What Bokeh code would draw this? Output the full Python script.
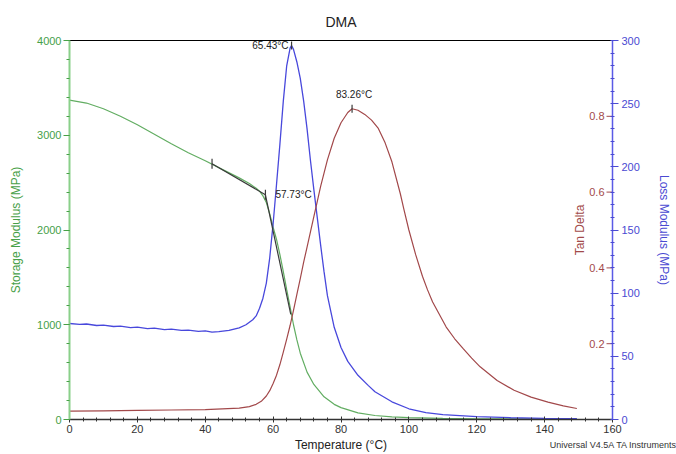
import math
from bokeh.plotting import figure
from bokeh.models import Range1d, LinearAxis, SingleIntervalTicker, Label, Div
from bokeh.layouts import column
from bokeh.core.properties import value
from bokeh.embed import file_html
from bokeh.resources import INLINE

FONT = "Liberation Sans"
GREEN_LINE = "#62ad62"
GREEN_TXT = "#47a047"
BLUE_LINE = "#4848dc"
BLUE_TXT = "#4a4ad2"
RED_LINE = "#a2484a"
RED_TXT = "#a24a4a"

# Storage modulus (MPa)
temp_storage = [0, 5, 10, 15, 20, 25, 30, 35, 40, 45, 50, 53, 55, 56, 57, 58, 59, 60,
                61, 62, 63, 64, 65, 66, 67, 68, 70, 72, 75, 78, 80, 85, 90, 95, 100,
                110, 120, 130, 140, 149.5]
storage = [3370, 3340, 3280, 3200, 3110, 3010, 2910, 2815, 2730, 2640, 2550, 2490, 2440,
           2410, 2360, 2290, 2170, 2030, 1900, 1740, 1560, 1370, 1190, 1000, 840, 700,
           500, 370, 240, 160, 125, 70, 42, 28, 20, 12, 8, 6, 5, 4]

# Loss modulus (MPa)
temp_loss = [0, 3, 5, 8, 10, 13, 15, 18, 20, 23, 25, 28, 30, 33, 35, 38, 40, 42, 44, 47,
             50, 52, 54, 55, 56, 57, 58, 59, 60, 61, 62, 63, 64, 65, 65.43, 66, 67, 68,
             69, 70, 71, 72, 73, 74, 75, 76, 78, 80, 82, 85, 88, 90, 95, 100, 105, 110,
             120, 130, 140, 149.5]
loss = [76, 75.3, 75.6, 74.4, 74.7, 73.6, 73.9, 72.8, 73.1, 72.0, 72.3, 71.2, 71.5, 70.5,
        70.8, 69.8, 70.1, 69.2, 69.6, 70.5, 72.5, 75, 79, 82, 88, 96, 108, 128, 155, 186,
        218, 252, 280, 294, 296, 293, 283, 270, 252, 230, 205, 182, 160, 138, 117, 98, 73,
        57, 46, 35, 27, 22, 14, 8.5, 5.5, 3.8, 2.2, 1.4, 0.9, 0.6]

# Tan delta
temp_tan = [0, 10, 20, 30, 40, 45, 50, 53, 55, 56.5, 58, 59, 60, 61, 62, 63, 64, 65, 66,
            67, 68, 69, 70, 71, 72, 73, 74, 76, 78, 80, 82, 83.26, 85, 87, 89, 91, 93,
            95, 97.5, 98.5, 100, 102, 104, 105.5, 107, 111, 113.5, 116, 118.5, 121, 126,
            131, 136, 141, 145.5, 149.5]
tan_delta = [0.022, 0.023, 0.024, 0.025, 0.026, 0.028, 0.030, 0.034, 0.040, 0.048, 0.062,
             0.076, 0.095, 0.117, 0.145, 0.178, 0.212, 0.248, 0.288, 0.33, 0.372, 0.415,
             0.455, 0.495, 0.535, 0.575, 0.615, 0.685, 0.742, 0.783, 0.810, 0.820, 0.816,
             0.805, 0.79, 0.768, 0.73, 0.68, 0.595, 0.556, 0.50, 0.435, 0.378, 0.342,
             0.31, 0.244, 0.213, 0.187, 0.162, 0.139, 0.103, 0.077, 0.059, 0.046, 0.036,
             0.029]

# Analysis annotations
loss_peak_T = [65.43]
loss_peak_val = [296]
loss_peak_label = ["65.43°C"]
tan_peak_T = [83.26]
tan_peak_val = [0.82]
tan_peak_label = ["83.26°C"]
onset_T = [57.73]
onset_E = [2372]
onset_label = ["57.73°C"]
tangent1_T = [42.0, 57.73]
tangent1_E = [2700, 2372]
tangent2_T = [57.73, 65.2]
tangent2_E = [2372, 1110]

# Tan delta axis ticks
tan_ticks = [0.2, 0.4, 0.6, 0.8]
tan_tick_labels = ["0.2", "0.4", "0.6", "0.8"]

footer_text = "Universal V4.5A TA Instruments"

p = figure(width=676, height=454, output_backend="svg", toolbar_location=None,
           x_range=Range1d(0, 160), y_range=Range1d(0, 4000),
           min_border_left=69, min_border_right=64, min_border_top=40,
           min_border_bottom=35)
p.background_fill_color = "white"
p.border_fill_color = "white"
p.outline_line_color = "black"
p.outline_line_width = 1
p.xgrid.visible = False
p.ygrid.visible = False

p.title.text = "DMA"
p.title.align = "center"
p.title.text_font = FONT
p.title.text_font_size = "14px"
p.title.text_font_style = "normal"
p.title.text_color = "#222222"
p.title.standoff = 21

p.extra_y_ranges = {"loss": Range1d(0, 300), "tan": Range1d(0, 1)}

# x axis
xa = p.xaxis[0]
xa.ticker = SingleIntervalTicker(interval=20, num_minor_ticks=5)
xa.axis_label = "Temperature (°C)"
xa.axis_label_text_font = FONT
xa.axis_label_text_font_size = "12px"
xa.axis_label_text_font_style = "normal"
xa.axis_label_text_color = "#222222"
xa.axis_label_standoff = 2
xa.major_label_text_font = FONT
xa.major_label_text_font_size = "11px"
xa.major_label_text_color = "#333333"
xa.major_label_standoff = 2
xa.axis_line_color = "#333333"
xa.axis_line_width = 1.5
xa.major_tick_in = 3
xa.major_tick_out = 3
xa.minor_tick_in = 2
xa.minor_tick_out = 2
xa.major_tick_line_color = "#333333"
xa.minor_tick_line_color = "#333333"

# left axis (storage)
ya = p.yaxis[0]
ya.ticker = SingleIntervalTicker(interval=1000, num_minor_ticks=5)
ya.axis_label = "Storage Modulus (MPa)"
ya.axis_label_text_font = FONT
ya.axis_label_text_font_size = "12px"
ya.axis_label_text_font_style = "normal"
ya.axis_label_text_color = GREEN_TXT
ya.axis_label_standoff = 11
ya.major_label_text_font = FONT
ya.major_label_text_font_size = "11px"
ya.major_label_text_color = GREEN_TXT
ya.major_label_standoff = 2
ya.axis_line_color = "#8ad08a"
ya.axis_line_width = 2
ya.major_tick_in = 0
ya.major_tick_out = 6
ya.minor_tick_in = 0
ya.minor_tick_out = 3
ya.major_tick_line_color = GREEN_TXT
ya.minor_tick_line_color = GREEN_TXT

# right axis (loss)
la = LinearAxis(y_range_name="loss",
                ticker=SingleIntervalTicker(interval=50, num_minor_ticks=5))
la.axis_label = "Loss Modulus (MPa)"
la.axis_label_text_font = FONT
la.axis_label_text_font_size = "12px"
la.axis_label_text_font_style = "normal"
la.axis_label_text_color = BLUE_TXT
la.axis_label_standoff = 14
la.major_label_text_font = FONT
la.major_label_text_font_size = "11px"
la.major_label_text_color = BLUE_TXT
la.major_label_standoff = 3
la.axis_line_color = "#5a5ae6"
la.axis_line_width = 1.5
la.major_tick_in = 0
la.major_tick_out = 6
la.minor_tick_in = 2
la.minor_tick_out = 2
la.major_tick_line_color = BLUE_TXT
la.minor_tick_line_color = BLUE_TXT
p.add_layout(la, "right")

# curves
p.line(temp_storage, storage, line_color=GREEN_LINE, line_width=1.2)
p.line(temp_loss, loss, line_color=BLUE_LINE, line_width=1.3, y_range_name="loss")
p.line(temp_tan, tan_delta, line_color=RED_LINE, line_width=1.2, y_range_name="tan")

# onset tangents
p.line(tangent1_T, tangent1_E, line_color="#3a3a3a", line_width=1.2)
p.line(tangent2_T, tangent2_E, line_color="#3a3a3a", line_width=1.2)
p.scatter(tangent1_T, tangent1_E, marker="dash", angle=math.pi / 2, size=10,
          line_color="#3a3a3a", line_width=1.2)

# peak markers
p.scatter(loss_peak_T, loss_peak_val, marker="dash", angle=math.pi / 2, size=8,
          line_color="#3a3a3a", line_width=1.2, y_range_name="loss")
p.scatter(tan_peak_T, tan_peak_val, marker="dash", angle=math.pi / 2, size=8,
          line_color="#3a3a3a", line_width=1.2, y_range_name="tan")

ann_font = dict(text_font=value(FONT), text_font_size="10px", text_color="#222222")
p.text(onset_T, onset_E, text=onset_label, x_offset=10, text_align="left",
       text_baseline="middle", **ann_font)
p.text(loss_peak_T, loss_peak_val, text=loss_peak_label, x_offset=-3, y_offset=0,
       text_align="right", text_baseline="middle", y_range_name="loss", **ann_font)
p.text(tan_peak_T, tan_peak_val, text=tan_peak_label, x_offset=2, y_offset=-9,
       text_align="center", text_baseline="bottom", y_range_name="tan", **ann_font)

# inner tan-delta axis on the right edge
x_end = p.x_range.end
p.scatter([x_end] * len(tan_ticks), tan_ticks, marker="dash", size=12,
          line_color=RED_TXT, line_width=1, y_range_name="tan")
p.text([x_end] * len(tan_ticks), tan_ticks, text=tan_tick_labels, x_offset=-8,
       text_align="right", text_baseline="middle", text_font=value(FONT),
       text_font_size="11px", text_color=RED_TXT, y_range_name="tan")
p.add_layout(Label(x=150.3, y=0.5, y_range_name="tan", text="Tan Delta",
                   angle=math.pi / 2, text_align="center", text_baseline="middle",
                   text_font=FONT, text_font_size="12px", text_color=RED_TXT))

# footer
footer = Div(text=footer_text, width=200, height=12, margin=(-15, 0, 0, 476),
             styles={"text-align": "right", "font-family": FONT, "font-size": "9px",
                     "color": "#333333", "line-height": "12px",
                     "white-space": "nowrap"})

layout = column(p, footer, spacing=0)
open("out.html", "w").write(file_html(layout, INLINE))
